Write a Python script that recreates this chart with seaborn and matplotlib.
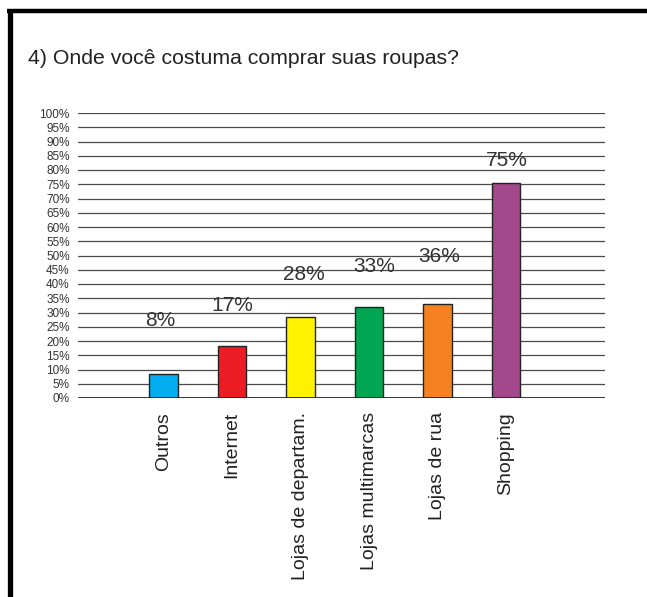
import matplotlib
matplotlib.use("Agg")
import matplotlib.pyplot as plt
from matplotlib.lines import Line2D
import seaborn as sns

categorias = ["Outros", "Internet", "Lojas de departam.", "Lojas multimarcas", "Lojas de rua", "Shopping"]
alturas = [8.4, 18.2, 28.4, 32.0, 33.0, 75.4]
rotulos = ["8%", "17%", "28%", "33%", "36%", "75%"]
cores = ["#00AEEF", "#ED1C24", "#FFF200", "#00A651", "#F58220", "#A3488A"]
yticks = list(range(0, 101, 5))

rot_y = [27.2, 32.3, 43.2, 46.1, 49.6, 83.5]
rot_dx = [-0.05, 0.0, 0.055, 0.08, 0.03, 0.01]

sns.set_theme(style="white")
plt.rcParams['font.family'] = ['Liberation Sans', 'DejaVu Sans']

fig = plt.figure(figsize=(6.47, 5.97), dpi=100)
ax = fig.add_axes([78 / 647, 199 / 597, 527 / 647, 285 / 597])

for y in yticks[1:]:
    ax.axhline(y, color="#4a4a4a", lw=0.9, zorder=0)
ax.axhline(0, color="#222222", lw=2.0, zorder=3)

sns.barplot(x=categorias, y=alturas, hue=categorias, palette=cores, width=0.42,
            saturation=1, edgecolor="#222222", linewidth=1.0, legend=False, ax=ax, zorder=2)

ax.set_xlim(-1.246, 6.443)
ax.set_ylim(0, 100)
ax.set_yticks(yticks)
ax.set_yticklabels([f"{v}%" for v in yticks], fontsize=8.5, color="#333333")
ax.tick_params(axis="y", length=0, pad=6)
ax.tick_params(axis="x", length=0, pad=10)
ax.set_xticks(range(len(categorias)))
ax.set_xticklabels(categorias, rotation=90, fontsize=14, color="#222222", va="top")
ax.set_xlabel("")
ax.set_ylabel("")
for s in ax.spines.values():
    s.set_visible(False)

for i, (t, yy, dx) in enumerate(zip(rotulos, rot_y, rot_dx)):
    ax.text(i + dx, yy, t, ha="center", va="center", fontsize=15, color="#333333")

fig.text(28 / 647, 1 - 58 / 597, "4) Onde você costuma comprar suas roupas?",
         fontsize=15.3, color="#222222", ha="left", va="center")

# moldura preta (esquerda e topo)
fig.add_artist(Line2D([9.5 / 647, 9.5 / 647], [0, 1 - 9 / 597], color="black", lw=3.8,
                      transform=fig.transFigure, solid_capstyle="butt"))
fig.add_artist(Line2D([7 / 647, 1], [1 - 11 / 597, 1 - 11 / 597], color="black", lw=3.2,
                      transform=fig.transFigure, solid_capstyle="butt"))

fig.savefig("out.png", dpi=100, facecolor="white")
